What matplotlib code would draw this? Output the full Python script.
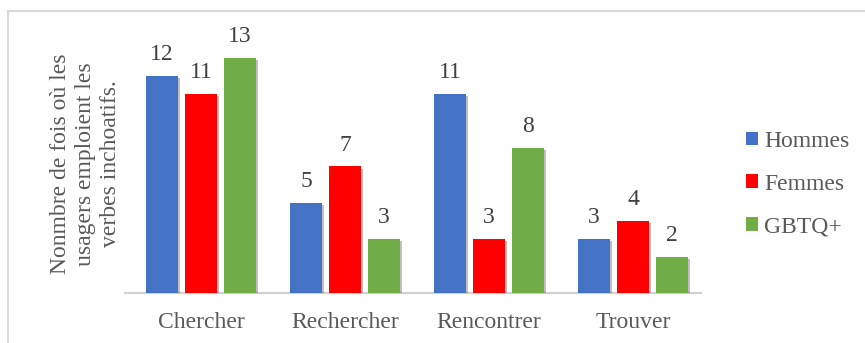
import matplotlib
matplotlib.use("Agg")
import matplotlib.pyplot as plt
import matplotlib.patheffects as pe
from matplotlib.lines import Line2D
from matplotlib.patches import Patch
import numpy as np

categories = ["Chercher", "Rechercher", "Rencontrer", "Trouver"]
hommes = [12, 5, 11, 3]
femmes = [11, 7, 3, 4]
gbtq = [13, 3, 8, 2]
series_names = ["Hommes", "Femmes", "GBTQ+"]
series_colors = ["#4472C4", "#FF0000", "#70AD47"]
ylabel = "Nonmbre de fois où les\nusagers emploient les\nverbes inchoatifs."

plt.rcParams["font.family"] = ["Liberation Serif", "DejaVu Serif"]
text_color = "#595959"
fs = 17

W, H = 865, 343
fig = plt.figure(figsize=(W / 100, H / 100), dpi=100)

# axes placement in pixel terms
left, right, bottom, top = 129, 705, 293, 30
ax = fig.add_axes([left / W, 1 - bottom / H, (right - left) / W, (bottom - top) / H])

x = np.arange(len(categories))
width = 0.222
step = 0.27
shadow = [pe.SimplePatchShadow(offset=(1.5, -1.5), shadow_rgbFace="#000000", alpha=0.25), pe.Normal()]
for i, (vals, col) in enumerate(zip([hommes, femmes, gbtq], series_colors)):
    bars = ax.bar(x + (i - 1) * step, vals, width, color=col, zorder=3)
    for b in bars:
        b.set_path_effects(shadow)
    for b, v in zip(bars, vals):
        ax.text(b.get_x() + b.get_width() / 2, v + 0.88, str(v), ha="center", va="baseline",
                fontsize=fs, color="#404040")

ax.set_xlim(-0.5, len(categories) - 0.5)
ax.set_ylim(0, 14.55)
ax.set_yticks([])
ax.set_xticks(x)
ax.set_xticklabels(categories, fontsize=fs, color=text_color)
ax.tick_params(axis="x", length=0, pad=14)
for s in ["top", "right", "left"]:
    ax.spines[s].set_visible(False)
ax.spines["bottom"].set_color("#D0D0D0")
ax.spines["bottom"].set_linewidth(1.5)
ax.spines["bottom"].set_bounds(-0.53, len(categories) - 0.53)

fig.text(86 / W, 1 - 164 / H, ylabel, rotation=90, ha="center", va="center",
         fontsize=fs, color=text_color, linespacing=1.25)

handles = [Patch(facecolor=c, edgecolor="none") for c in series_colors]
leg = fig.legend(handles, series_names, loc="center left", bbox_to_anchor=(725 / W, 1 - 184 / H),
                 frameon=False, fontsize=fs, handlelength=0.5, handleheight=0.5,
                 handletextpad=0.25, labelspacing=0.92, labelcolor=text_color)

# outer frame: top and left edges
fig.add_artist(Line2D([8 / W, 1], [1 - 11 / H, 1 - 11 / H], color="#D9D9D9", lw=1.5))
fig.add_artist(Line2D([8 / W, 8 / W], [0, 1 - 11 / H], color="#D9D9D9", lw=1.5))

fig.savefig("out.png", dpi=100)
